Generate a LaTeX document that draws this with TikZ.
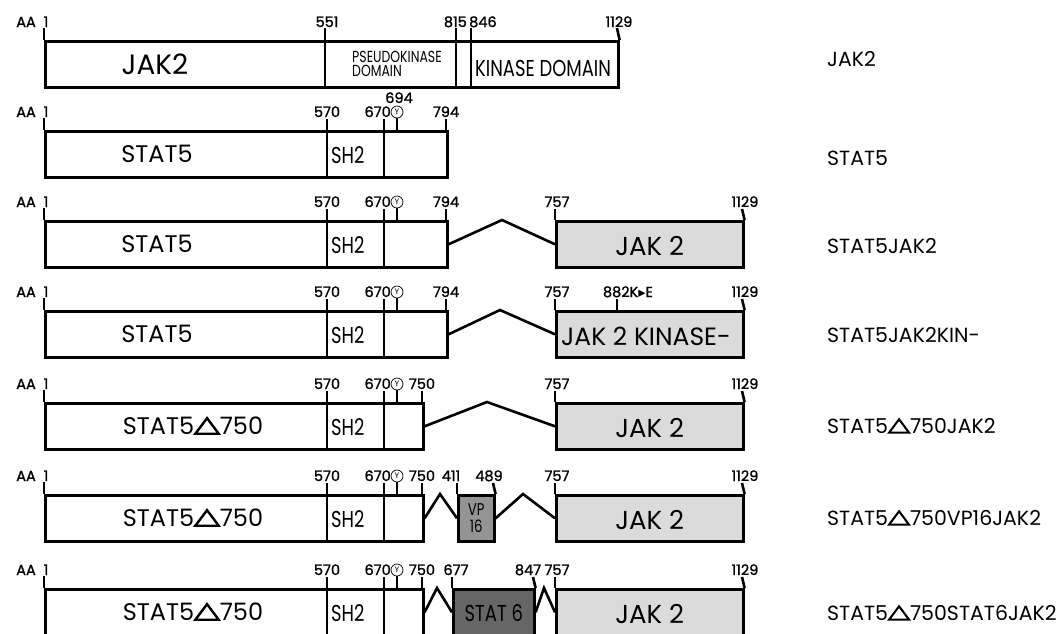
\documentclass[tikz,border=0pt]{standalone}
\usepackage{fontspec}
\setmainfont{Poppins}
\newfontfamily\narrowfont[FakeStretch=0.78]{Poppins}
\newfontfamily\numfont[FakeBold=1.2]{Poppins}
\newfontfamily\symfont{DejaVu Sans}
\newcommand{\deltri}{\tikz[baseline=0pt]\draw[line width=0.1em, line join=miter]
  (0.03em,0.05em) -- (1.0em,0.05em) -- (0.515em,0.7em) -- cycle;}
\newcommand{\kearrow}{{\symfont\char"25B8}}

\definecolor{jakgray}{gray}{0.86}
\definecolor{vpgray}{gray}{0.58}
\definecolor{statgray}{gray}{0.40}

\tikzset{
  box/.style={draw, line width=2.6pt, inner sep=0pt, anchor=north west, minimum height=46pt},
  tick/.style={line width=2.6pt},
  link/.style={line width=2.6pt, line join=miter},
  num/.style={font=\numfont\fontsize{14.5}{14.5}\selectfont, anchor=base, inner sep=0pt},
  big/.style={font=\fontsize{24}{24}\selectfont, inner sep=0pt},
  narrow/.style={font=\narrowfont\fontsize{23}{23}\selectfont, inner sep=0pt},
  rowname/.style={font=\fontsize{20.5}{20.5}\selectfont, anchor=west, inner sep=0pt},
  ycirc/.style={draw, circle, line width=0.7pt, inner sep=0pt, minimum size=12pt, font=\fontsize{8}{8}\selectfont}
}

\begin{document}
\begin{tikzpicture}[x=1pt, y=-1pt]
		\useasboundingbox (0,0) rectangle (1061,633);
		\clip (0,0) rectangle (1061,633);
		
		% JAK2, full length
		\node[box, minimum width=573pt] (jak) at (44,40) {};
		\draw[tick] (44,28) -- (jak.north west);
		\draw[tick] (325,28) -- (325,86);
		\draw[tick] (456,28) -- (456,86);
		\draw[tick] (471,28) -- (471,86);
		\draw[tick] (617,28) -- (jak.north east);
		\node[num, anchor=base east] at (36,27) {AA};
		\node[num] at (46,27) {1};
		\node[num] at (327,27) {551};
		\node[num, anchor=base east] at (467,27) {815};
		\node[num, anchor=base west] at (469,27) {846};
		\node[num] at (619,27) {1129};
		\node[big, font=\fontsize{28}{28}\selectfont] at (155,64) {JAK2};
		\node[anchor=west, align=left, inner sep=0pt, font=\narrowfont\fontsize{16}{14}\selectfont] at (352,64) {PSEUDOKINASE\\DOMAIN};
		\node[narrow, anchor=west] at (475,68) {KINASE DOMAIN};
		
		% STAT5 part of every other row
		\foreach \n/\t/\e/\xe/\tx/\txt in {2/130/402/794/157/{STAT5}, 3/220/402/794/157/{STAT5},
			4/310/402/794/157/{STAT5}, 5/402/378/750/193/{STAT5\deltri750},
			6/494/378/750/193/{STAT5\deltri750}, 7/588/378/750/193/{STAT5\deltri750}} {
			\node[box, minimum width=\e pt] (s\n) at (44,\t) {};
			\draw[tick] (44,\t-12) -- (44,\t);
			\draw[tick] (327,\t-11) -- (327,\t+46);
			\draw[tick] (384,\t-11) -- (384,\t+46);
			\draw[tick] (44+\e,\t-11) -- (44+\e,\t);
			\node[ycirc] (y\n) at (397,\t-18) {Y};
			\draw[tick, line width=1.8pt] (y\n.south) -- (397,\t);
			\node[num, anchor=base east] at (36,\t-13) {AA};
			\node[num] at (46,\t-13) {1};
			\node[num] at (327,\t-13) {570};
			\node[num, anchor=base east] at (391,\t-13) {670};
			\node[num] at (44+\e,\t-13) {\xe};
			\node[big] at (\tx,\t+24) {\txt};
			\node[narrow, anchor=west] at (331,\t+25) {SH2};
		}
		\node[num] at (399,103) {694};
		
		% JAK2 part, aa 757-1129
		\foreach \n/\t in {3/220, 4/310, 5/402, 6/494, 7/588} {
			\node[box, fill=jakgray, minimum width=187pt] (j\n) at (555,\t) {};
			\draw[tick] (555,\t-11) -- (j\n.north west);
			\draw[tick] (742,\t-11) -- (j\n.north east);
			\node[num] at (557,\t-13) {757};
			\node[num] at (745,\t-13) {1129};
		}
		\foreach \n in {3,5,6,7}
			\node[big, font=\fontsize{26}{26}\selectfont] at ([yshift=-2pt]j\n) {JAK 2};
		\node[big, anchor=west, font=\fontsize{25}{25}\selectfont] at (561,336) {JAK 2 KINASE-};
		\draw[tick] (617,299) -- (617,310);
		\node[num] at (628,297) {882K\kearrow E};
		
		% linkers
		\coordinate (p3) at (502,220);
		\coordinate (p4) at (500,310);
		\coordinate (p5) at (487,402);
		\draw[link] (s3.east) -- (p3) -- (j3.west);
		\draw[link] (s4.east) -- (p4) -- (j4.west);
		\draw[link] (s5.east) -- (p5) -- (j5.west);
		
		% VP16 insert
		\node[box, fill=vpgray, minimum width=36pt] (vp) at (457,494) {};
		\draw[tick] (457,483) -- (vp.north west);
		\draw[tick] (493,483) -- (vp.north east);
		\node[num] at (451,481) {411};
		\node[num] at (489,481) {489};
		\node[align=center, inner sep=0pt, font=\narrowfont\fontsize{17}{17}\selectfont] at (vp) {VP\\16};
		\coordinate (p6a) at (440,494);
		\coordinate (p6b) at (523,494);
		\draw[link] (s6.east) -- (p6a) -- (vp.west);
		\draw[link] (vp.east) -- (p6b) -- (j6.west);
		
		% STAT6 insert
		\node[box, fill=statgray, minimum width=81pt] (st6) at (452,588) {};
		\draw[tick] (452,577) -- (st6.north west);
		\draw[tick] (533,577) -- (st6.north east);
		\node[num] at (456,575) {677};
		\node[num] at (528,575) {847};
		\node[narrow] at ([yshift=-1pt]st6) {STAT 6};
		\coordinate (p7a) at (437,588);
		\coordinate (p7b) at (544,588);
		\draw[link] (s7.east) -- (p7a) -- (st6.west);
		\draw[link] (st6.east) -- (p7b) -- (j7.west);
		
		% construct names
		\foreach \n/\y/\txt in {1/59/{JAK2}, 2/158/{STAT5}, 3/246/{STAT5JAK2}, 4/335/{STAT5JAK2KIN-},
			5/426/{STAT5\deltri750JAK2}, 6/518/{STAT5\deltri750VP16JAK2}, 7/613/{STAT5\deltri750STAT6JAK2}}
			\node[rowname] (name\n) at (827,\y) {\txt};
\end{tikzpicture}
\end{document}
